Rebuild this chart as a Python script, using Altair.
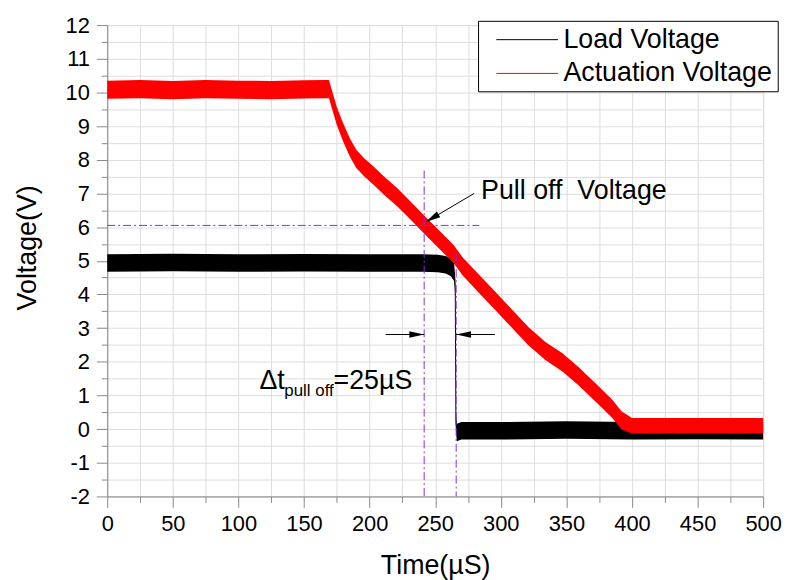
import altair as alt
import pandas as pd

# ---------------- data ----------------
# Actuation voltage (red): centre of the noisy trace and half-width of its band
act_t = [0, 25, 50, 75, 100, 125, 150, 166, 169, 175, 180, 185, 190, 196, 203, 211, 221,
         231, 241, 251, 264, 271, 284, 296, 309, 321, 334, 347, 359, 372, 385, 392, 400,
         425, 450, 475, 500]
act_mid = [10.08, 10.1, 10.07, 10.1, 10.08, 10.07, 10.09, 10.1, 10.1, 9.3, 8.8, 8.36, 8.02,
           7.77, 7.53, 7.23, 6.89, 6.5, 6.1, 5.71, 5.2, 4.83, 4.29, 3.8, 3.26, 2.76, 2.32,
           1.98, 1.58, 1.1, 0.6, 0.26, 0.1, 0.1, 0.1, 0.1, 0.1]
act_half = [0.27] * 32 + [0.23] * 5

# Load voltage (black)
load_t = [0, 50, 100, 150, 200, 240, 252, 258, 262, 264.5, 265.3, 265.8, 266.5, 270, 300,
          350, 400, 450, 500]
load_mid = [4.93, 4.95, 4.93, 4.94, 4.93, 4.93, 4.92, 4.88, 4.8, 4.65, 4.2, 0.2, -0.1,
            -0.05, -0.05, -0.03, -0.05, -0.04, -0.05]
load_half = [0.26] * 19

series_names = ["Load Voltage", "Actuation Voltage"]
series_colors = ["black", "red"]

# dash-dot guide lines (purple)
guide_x = [0, 241.6, 266.0]
guide_x2 = [283.6, 241.6, 266.0]
guide_y = [6.05, 7.68, 5.22]
guide_y2 = [6.05, -2, -2]

# arrows: shaft start -> tip
arrow_x = [279.7, 212.3, 295.5]
arrow_y = [7.0, 2.81, 2.81]
arrow_tx = [242.8, 241.6, 266.0]
arrow_ty = [6.15, 2.81, 2.81]
arrow_angle = [239.4, 90, 270]

# annotation texts
ann_text = ["Pull off\u00a0\u00a0Voltage", "\u0394t", "pull off", "=25\u00b5S"]
ann_x = [285.0, 116.0, 135.0, 172.5]
ann_y = [6.84, 1.19, 0.98, 1.19]
ann_fs = [27, 27, 17, 27]

x_ticks = [i * 25 for i in range(21)]
y_ticks = [-2 + 0.5 * i for i in range(29)]

# ---------------- tables ----------------
df_act = pd.DataFrame({"t": act_t, "v": act_mid,
                       "lo": [m - h for m, h in zip(act_mid, act_half)],
                       "hi": [m + h for m, h in zip(act_mid, act_half)],
                       "series": "Actuation Voltage"})
df_load = pd.DataFrame({"t": load_t, "v": load_mid,
                        "lo": [m - h for m, h in zip(load_mid, load_half)],
                        "hi": [m + h for m, h in zip(load_mid, load_half)],
                        "series": "Load Voltage"})
df_guides = pd.DataFrame({"t": guide_x, "t2": guide_x2, "v": guide_y, "v2": guide_y2})
df_arrows = pd.DataFrame({"t": arrow_x, "t2": arrow_tx, "v": arrow_y, "v2": arrow_ty})
df_heads = pd.DataFrame({"t": arrow_tx, "v": arrow_ty, "ang": arrow_angle})
df_text = pd.DataFrame({"t": ann_x, "v": ann_y, "txt": ann_text, "fs": ann_fs})

FONT = "Liberation Sans"
PURPLE = "#8A2BE2"

x_axis = alt.Axis(values=x_ticks, title="Time(\u00b5S)",
                  labelExpr="datum.value % 50 === 0 ? '' + datum.value : ''",
                  tickSize={"condition": {"test": "datum.value % 50 === 0", "value": 11}, "value": 6},
                  labelFontSize=22, labelPadding=6, titleFontSize=27, titlePadding=19,
                  titleFontWeight="normal", titleFont=FONT, labelFont=FONT,
                  labelFlush=False, labelOverlap=False)
y_axis = alt.Axis(values=y_ticks, title="Voltage(V)",
                  labelExpr="datum.value % 1 === 0 ? '' + datum.value : ''",
                  tickSize={"condition": {"test": "datum.value % 1 === 0", "value": 11}, "value": 6},
                  labelFontSize=22, labelPadding=7, titleFontSize=27, titlePadding=24,
                  titleFontWeight="normal", titleFont=FONT, labelFont=FONT,
                  titleY=224, labelFlush=False, labelOverlap=False)

xs = alt.Scale(domain=[0, 500], nice=False)
ys = alt.Scale(domain=[-2, 12], nice=False)

def X(f="t"):
    return alt.X(f"{f}:Q", scale=xs, axis=x_axis)

def Y(f="v"):
    return alt.Y(f"{f}:Q", scale=ys, axis=y_axis)

color = alt.Color("series:N",
                  scale=alt.Scale(domain=series_names, range=series_colors),
                  legend=alt.Legend(orient="none", legendX=373.7, legendY=-4.3, title=None,
                                    strokeColor="black", fillColor="white", padding=5,
                                    symbolType="M-2.3,0H2.3", symbolSize=729,
                                    symbolStrokeWidth=1, symbolOffset=30.5,
                                    labelFontSize=27, labelFont=FONT, labelLimit=400,
                                    rowPadding=7, labelOffset=22.5))

load_band = alt.Chart(df_load).mark_area(color="black", opacity=1).encode(
    x=X(), y=Y("lo"), y2="hi:Q")
load_line = alt.Chart(df_load).mark_line(strokeWidth=1).encode(x=X(), y=Y(), color=color)
act_band = alt.Chart(df_act).mark_area(color="red", opacity=1).encode(
    x=X(), y=Y("lo"), y2="hi:Q")
act_line = alt.Chart(df_act).mark_line(strokeWidth=1).encode(x=X(), y=Y(), color=color)

guides = alt.Chart(df_guides).mark_rule(color=PURPLE, strokeWidth=1,
                                        strokeDash=[8, 3, 2, 3]).encode(
    x=X(), x2="t2:Q", y=Y(), y2="v2:Q")
shafts = alt.Chart(df_arrows).mark_rule(color="black", strokeWidth=1).encode(
    x=X(), x2="t2:Q", y=Y(), y2="v2:Q")
heads = alt.Chart(df_heads).mark_point(shape="M0,0L-0.45,2L0.45,2Z", filled=True,
                                       color="black", opacity=1, size=225).encode(
    x=X(), y=Y(), angle=alt.Angle("ang:Q", scale=None))
texts = alt.Chart(df_text).mark_text(align="left", baseline="alphabetic", font=FONT,
                                     color="black").encode(
    x=X(), y=Y(), text="txt:N", size=alt.Size("fs:Q", scale=None))

chart = alt.layer(load_band, load_line, act_band, act_line, guides, shafts, heads, texts).properties(
    width=661, height=475,
    padding={"left": 100, "top": 15, "right": 19, "bottom": 82},
    autosize="none",
).configure_view(stroke=None).configure_axis(
    grid=False, domainColor="black", tickColor="black", labelColor="black",
    titleColor="black", labelFont=FONT, titleFont=FONT, titleFontWeight="normal",
    domainWidth=1.5, tickWidth=1.5,
).configure(background="white")

chart.save("out.html", embed_options={"renderer": "svg", "actions": False})
